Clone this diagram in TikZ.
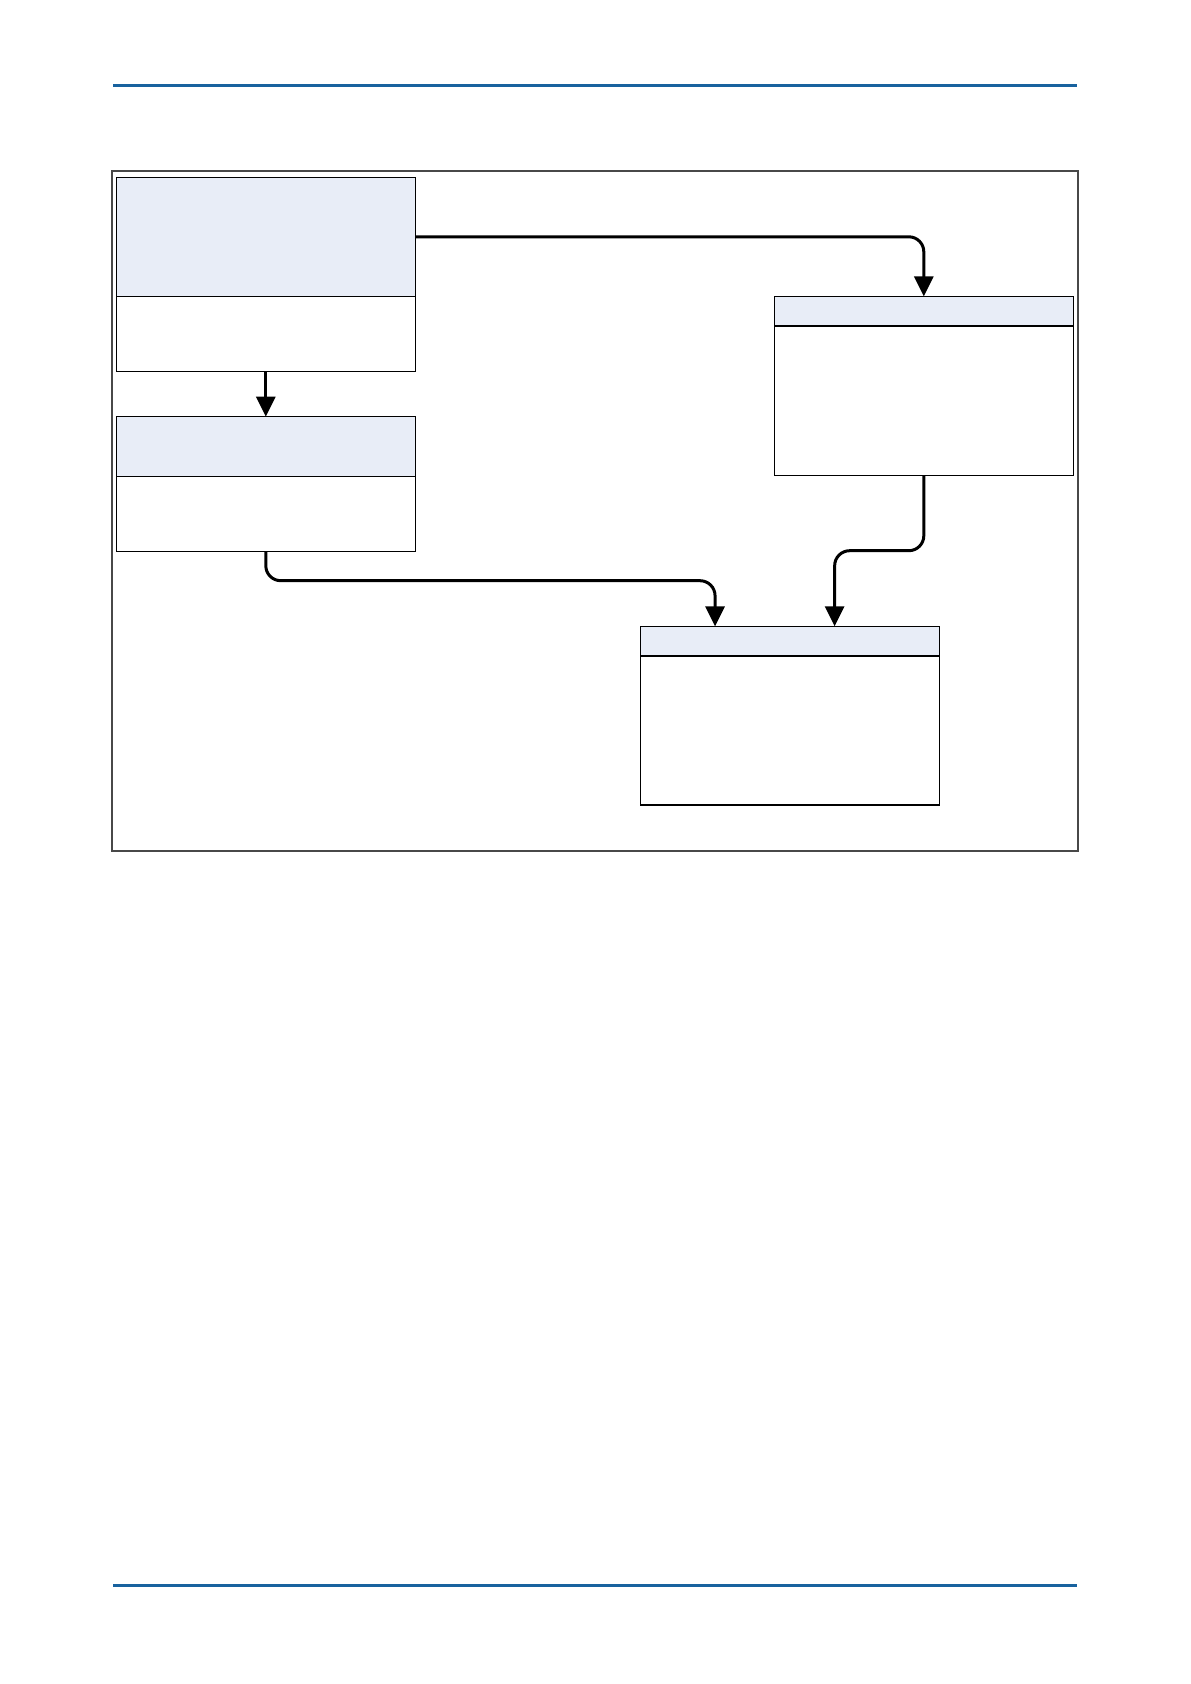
\documentclass[tikz,border=0pt]{standalone}
\usetikzlibrary{arrows.meta,positioning,calc}
\definecolor{rulebl}{RGB}{24,98,158}
\definecolor{hdrfill}{RGB}{232,237,247}
\definecolor{framegr}{RGB}{72,72,72}
\tikzset{
 hdr/.style={rectangle,draw=black,line width=.7bp,fill=hdrfill,inner sep=0pt,outer sep=0pt,minimum width=149.5bp},
 bdy/.style={rectangle,draw=black,line width=.7bp,fill=white,inner sep=0pt,outer sep=0pt,minimum width=149.5bp},
 conn/.style={line width=1.5bp,rounded corners=7.5bp,-{Triangle[length=10bp,width=9.5bp]}}
}
\begin{document}
\begin{tikzpicture}[x=.5bp,y=-.5bp]
 \useasboundingbox (0,0) rectangle (1191,1684);
 \draw[rulebl,line width=1.25bp] (113,85.6) -- (1077,85.6);
 \draw[rulebl,line width=1.25bp] (113,1585.5) -- (1077,1585.5);
 \draw[framegr,line width=1bp] (112.3,170.7) rectangle (1078,851.3);
 \foreach \id/\x/\y/\hh/\bh in {A/116.3/177.3/119/75,B/116.3/416.7/59.6/75,
  C/774.3/296.3/29.7/149.7,D/640.3/626.3/29.7/149} {
  \node[hdr,anchor=north west,minimum height=\hh*.5bp] (h\id) at (\x,\y) {};
  \node[bdy,below=0pt of h\id,minimum height=\bh*.5bp] (b\id) {};
 }
 \draw[conn] (hA.east) -| (hC.north);
 \draw[conn] (bA.south) -- (hB.north);
 \draw[conn] (bB.south) -- ++(0,29.4) -| ($(hD.north west)!.25!(hD.north east)$);
 \draw[conn] (bC.south) -- ++(0,75) -| ($(hD.north west)!.65!(hD.north east)$);
\end{tikzpicture}
\end{document}
